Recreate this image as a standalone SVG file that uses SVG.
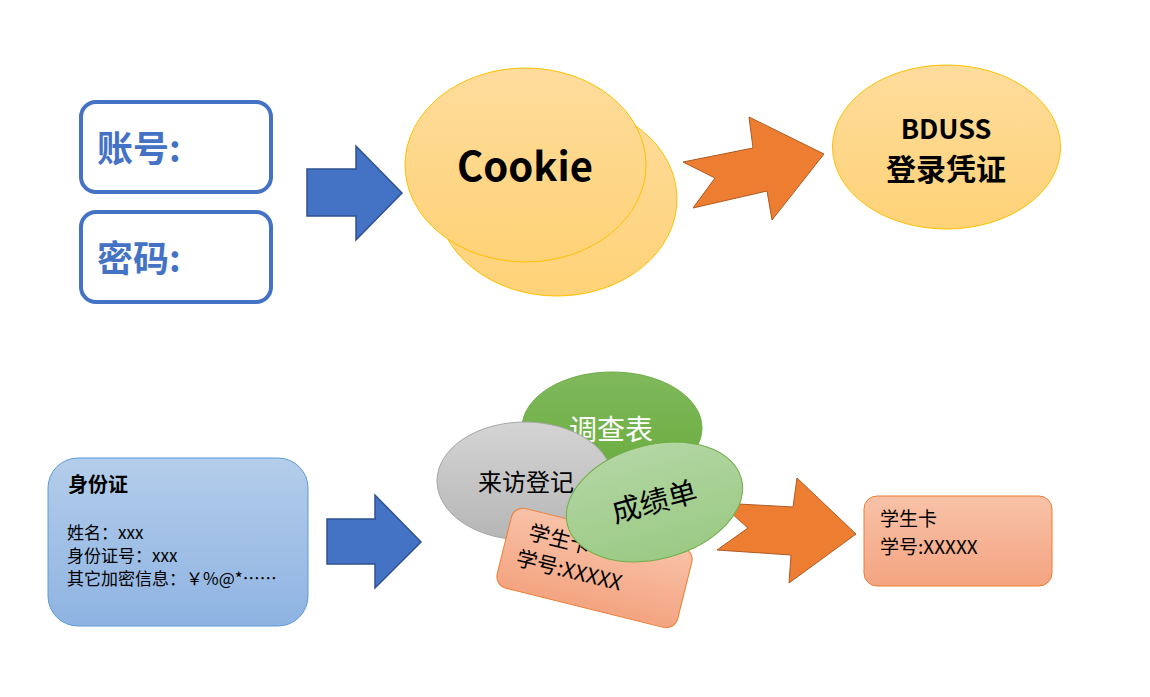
<svg xmlns="http://www.w3.org/2000/svg" width="1150" height="697" viewBox="0 0 1150 697">
<defs>
<linearGradient id="gYellow" x1="0" y1="0" x2="0" y2="1"><stop offset="0" stop-color="#FEDC9C"/><stop offset="1" stop-color="#FED277"/></linearGradient>
<linearGradient id="gGreen" x1="0" y1="0" x2="0" y2="1"><stop offset="0" stop-color="#80B95C"/><stop offset="1" stop-color="#68AC3C"/></linearGradient>
<linearGradient id="gGray" x1="0" y1="0" x2="0" y2="1"><stop offset="0" stop-color="#D4D4D4"/><stop offset="1" stop-color="#B6B6B6"/></linearGradient>
<linearGradient id="gLight" x1="0" y1="0" x2="0" y2="1"><stop offset="0" stop-color="#B3D6A3"/><stop offset="1" stop-color="#9BCA85"/></linearGradient>
<linearGradient id="gBlue" x1="0" y1="0" x2="0" y2="1"><stop offset="0" stop-color="#B4CDEA"/><stop offset="1" stop-color="#8EB3E2"/></linearGradient>
<linearGradient id="gSalmon" x1="0" y1="0" x2="0" y2="1"><stop offset="0" stop-color="#F8C2A8"/><stop offset="1" stop-color="#F4A481"/></linearGradient>
</defs>
<style>
text{font-family:"Noto Sans CJK SC","Liberation Sans",sans-serif;}
.inbox{fill:#FFFFFF;stroke:#4472C4;stroke-width:4;}
.inlabel{fill:#4472C4;font-weight:bold;font-size:36px;}
.yellow{fill:url(#gYellow);stroke:#FFC000;stroke-width:1;}
.barrow{fill:#4472C4;stroke:#2F528F;stroke-width:1.5;}
.oarrow{fill:#ED7D31;stroke:#AE5A21;stroke-width:1;}
.salmon{fill:url(#gSalmon);stroke:#ED7D31;stroke-width:1;}
.dark{fill:#000000;}
</style>
<rect width="1150" height="697" fill="#FFFFFF"/>

<g id="connectors">
<polygon class="barrow" points="307,169 356,169 356,146 402,193 356,240 356,216 307,216"/>
<polygon class="oarrow" points="683,162 753,148 749,117 824,154 772,220 767,191 693,208 715,178"/>
<polygon class="barrow" points="327,519 375,519 375,495 421,542 375,588 375,564 327,564"/>
<polygon class="oarrow" points="720,503 793,507 797,478 856,534 789,583 791,555 717,550 748,528"/>
</g>

<g id="account">
<rect class="inbox" x="81" y="102" width="190" height="90" rx="15"/>
<text class="inlabel" x="97" y="162">账号:</text>
</g>
<g id="password">
<rect class="inbox" x="81" y="212" width="190" height="90" rx="15"/>
<text class="inlabel" x="97" y="272">密码:</text>
</g>

<g id="cookie">
<ellipse class="yellow" cx="557" cy="199" rx="120" ry="97"/>
<ellipse class="yellow" cx="525.5" cy="165" rx="120.5" ry="97"/>
<text class="dark" x="525" y="181" text-anchor="middle" font-size="40" font-weight="bold">Cookie</text>
</g>

<g id="bduss">
<ellipse class="yellow" cx="946.5" cy="147" rx="114" ry="82"/>
<text class="dark" x="946" y="139" text-anchor="middle" font-size="27" font-weight="bold">BDUSS</text>
<text class="dark" x="946" y="180" text-anchor="middle" font-size="30" font-weight="bold">登录凭证</text>
</g>

<g id="idcard">
<rect x="48" y="458" width="260" height="168" rx="30" fill="url(#gBlue)" stroke="#5B9BD5" stroke-width="1"/>
<text class="dark" x="68" y="492" font-size="20" font-weight="bold">身份证</text>
<text class="dark" x="67" y="539" font-size="17">姓名：xxx</text>
<text class="dark" x="67" y="562" font-size="17">身份证号：xxx</text>
<text class="dark" x="67" y="585" font-size="17">其它加密信息：￥%@*……</text>
</g>

<g id="survey">
<ellipse cx="612" cy="428" rx="90" ry="56" fill="url(#gGreen)" stroke="#70AD47" stroke-width="1"/>
<text x="611" y="440" text-anchor="middle" font-size="28" fill="#FFFFFF">调查表</text>
</g>

<g id="visit">
<ellipse cx="525" cy="481" rx="88" ry="59" fill="url(#gGray)" stroke="#A5A5A5" stroke-width="1"/>
<text class="dark" x="526" y="491" text-anchor="middle" font-size="24">来访登记</text>
</g>

<g id="studentcard-tilted" transform="translate(594.5,568) rotate(14)">
<rect class="salmon" x="-93" y="-41" width="186" height="82" rx="12"/>
<text class="dark" x="-72" y="-12" font-size="21">学生卡</text>
<text class="dark" x="-78" y="16" font-size="21">学号:XXXXX</text>
</g>

<g id="grades" transform="translate(654.5,502) rotate(-15)">
<ellipse cx="0" cy="0" rx="90" ry="57" fill="url(#gLight)" stroke="#70AD47" stroke-width="1"/>
<text class="dark" x="0" y="10" text-anchor="middle" font-size="29">成绩单</text>
</g>

<g id="studentcard">
<rect class="salmon" x="864" y="496" width="188" height="90" rx="13"/>
<text class="dark" x="880" y="526" font-size="19">学生卡</text>
<text class="dark" x="880" y="554" font-size="19">学号:XXXXX</text>
</g>
</svg>
